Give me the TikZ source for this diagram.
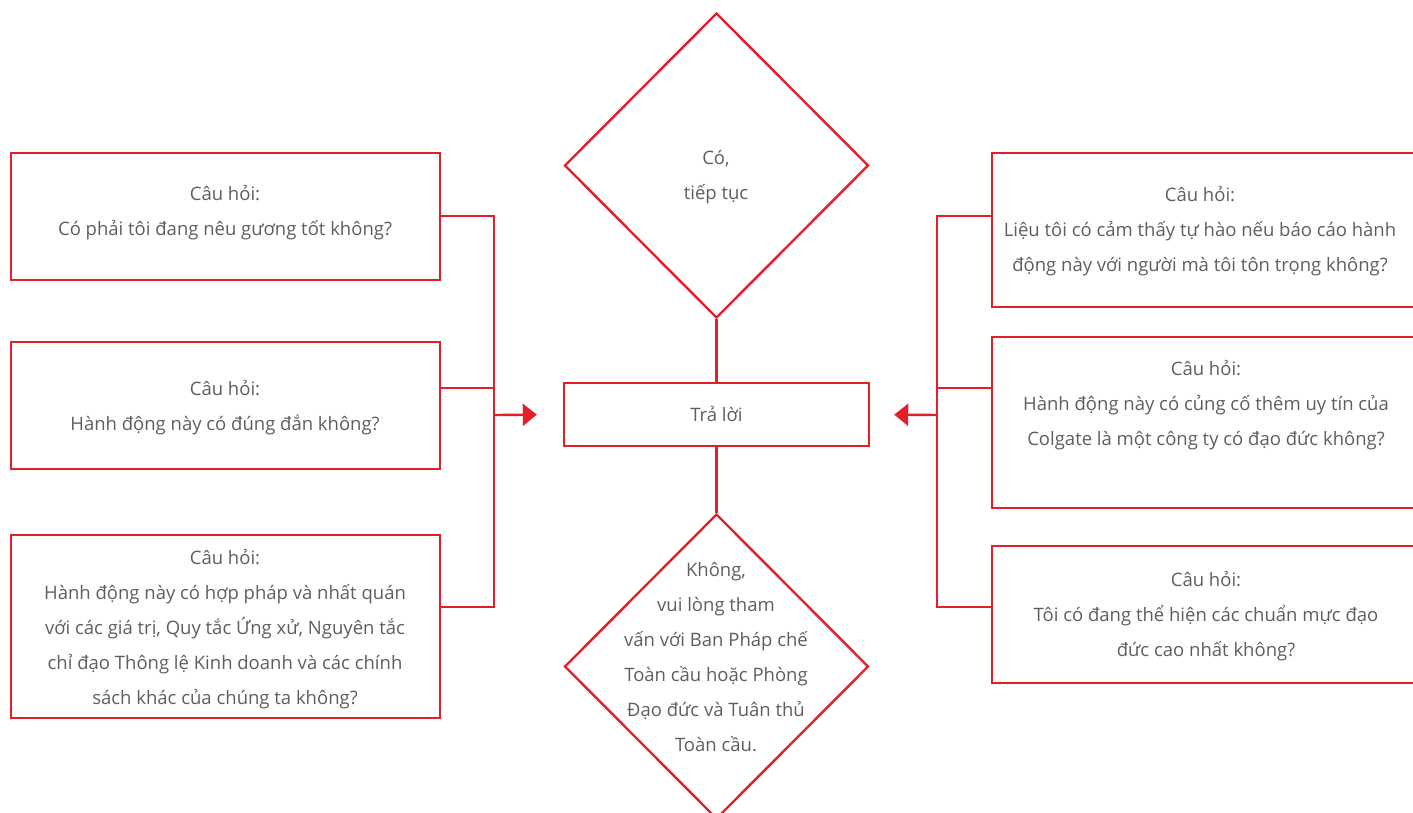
\documentclass[tikz,border=0pt]{standalone}
\usepackage{fontspec}
\setmainfont{Open Sans}
\usetikzlibrary{arrows.meta,shapes.geometric}
\definecolor{cred}{HTML}{E3202A}
\definecolor{ctext}{HTML}{5E5E60}
\begin{document}
\begin{tikzpicture}[x=1pt,y=-1pt,
  box/.style={draw=cred, line width=2.4pt, rectangle, inner sep=0pt},
  dia/.style={draw=cred, line width=2.4pt, diamond, inner sep=0pt, minimum width=304pt, minimum height=305pt},
  txt/.style={align=center, text=ctext, font=\fontsize{18.5}{35}\selectfont, inner sep=0pt},
  conn/.style={draw=cred, line width=2.4pt},
  arr/.style={conn, -{Triangle[length=14pt,width=22pt]}}]
\useasboundingbox (0,0) rectangle (1413,813);
\clip (0,0) rectangle (1413,813);
% left boxes
\node[box, minimum width=429pt, minimum height=127pt] (L1) at (225.5,216.5) {};
\node[box, minimum width=429pt, minimum height=127pt] (L2) at (225.5,405.5) {};
\node[box, minimum width=429pt, minimum height=183pt] (L3) at (225.5,626.5) {};
\node[txt] (L1t) at (225,213) {Câu hỏi:\\Có phải tôi đang nêu gương tốt không?};
\node[txt] (L2t) at (225,408) {Câu hỏi:\\Hành động này có đúng đắn không?};
\node[txt] (L3t) at (225,629) {Câu hỏi:\\Hành động này có hợp pháp và nhất quán\\với các giá trị, Quy tắc Ứng xử, Nguyên tắc\\chỉ đạo Thông lệ Kinh doanh và các chính\\sách khác của chúng ta không?};
% right boxes
\node[box, minimum width=448pt, minimum height=154pt] (R1) at (1216,230) {};
\node[box, minimum width=448pt, minimum height=171pt] (R2) at (1216,422.5) {};
\node[box, minimum width=448pt, minimum height=137pt] (R3) at (1216,614.5) {};
\node[txt] (R1t) at (1200,231.5) {Câu hỏi:\\Liệu tôi có cảm thấy tự hào nếu báo cáo hành\\động này với người mà tôi tôn trọng không?};
\node[txt] (R2t) at (1206,405) {Câu hỏi:\\Hành động này có củng cố thêm uy tín của\\Colgate là một công ty có đạo đức không?};
\node[txt] (R3t) at (1206,616) {Câu hỏi:\\Tôi có đang thể hiện các chuẩn mực đạo\\đức cao nhất không?};
% centre
\node[box, minimum width=305pt, minimum height=63pt, txt, draw=cred] (C) at (716.5,414.5) {\raisebox{-2pt}{Trả lời}};
\node[dia] (D1) at (716.5,165.5) {};
\node[dia] (D2) at (716.5,666.5) {};
\node[txt] (D1t) at (716,177.5) {Có,\\tiếp tục};
\node[txt] (D2t) at (716,657) {Không,\\vui lòng tham\\vấn với Ban Pháp chế\\Toàn cầu hoặc Phòng\\Đạo đức và Tuân thủ\\Toàn cầu.};
\draw[conn] (D1.south) -- (C.north);
\draw[conn] (C.south) -- (D2.north);
% left bracket
\coordinate (LB1) at (494,216);
\coordinate (LB2) at (494,388);
\coordinate (LB3) at (494,607);
\coordinate (LA) at (494,415);
\draw[conn] (L1.east |- LB1) -- (LB1) -- (LB3) -- (L3.east |- LB3);
\draw[conn] (L2.east |- LB2) -- (LB2);
\draw[arr, shorten >=26pt] (LA) -- (C.west);
% right bracket
\coordinate (RB1) at (937,216);
\coordinate (RB2) at (937,388);
\coordinate (RB3) at (937,607);
\coordinate (RA) at (937,415);
\draw[conn] (R1.west |- RB1) -- (RB1) -- (RB3) -- (R3.west |- RB3);
\draw[conn] (R2.west |- RB2) -- (RB2);
\draw[arr, shorten >=24pt] (RA) -- (C.east);
\end{tikzpicture}
\end{document}
